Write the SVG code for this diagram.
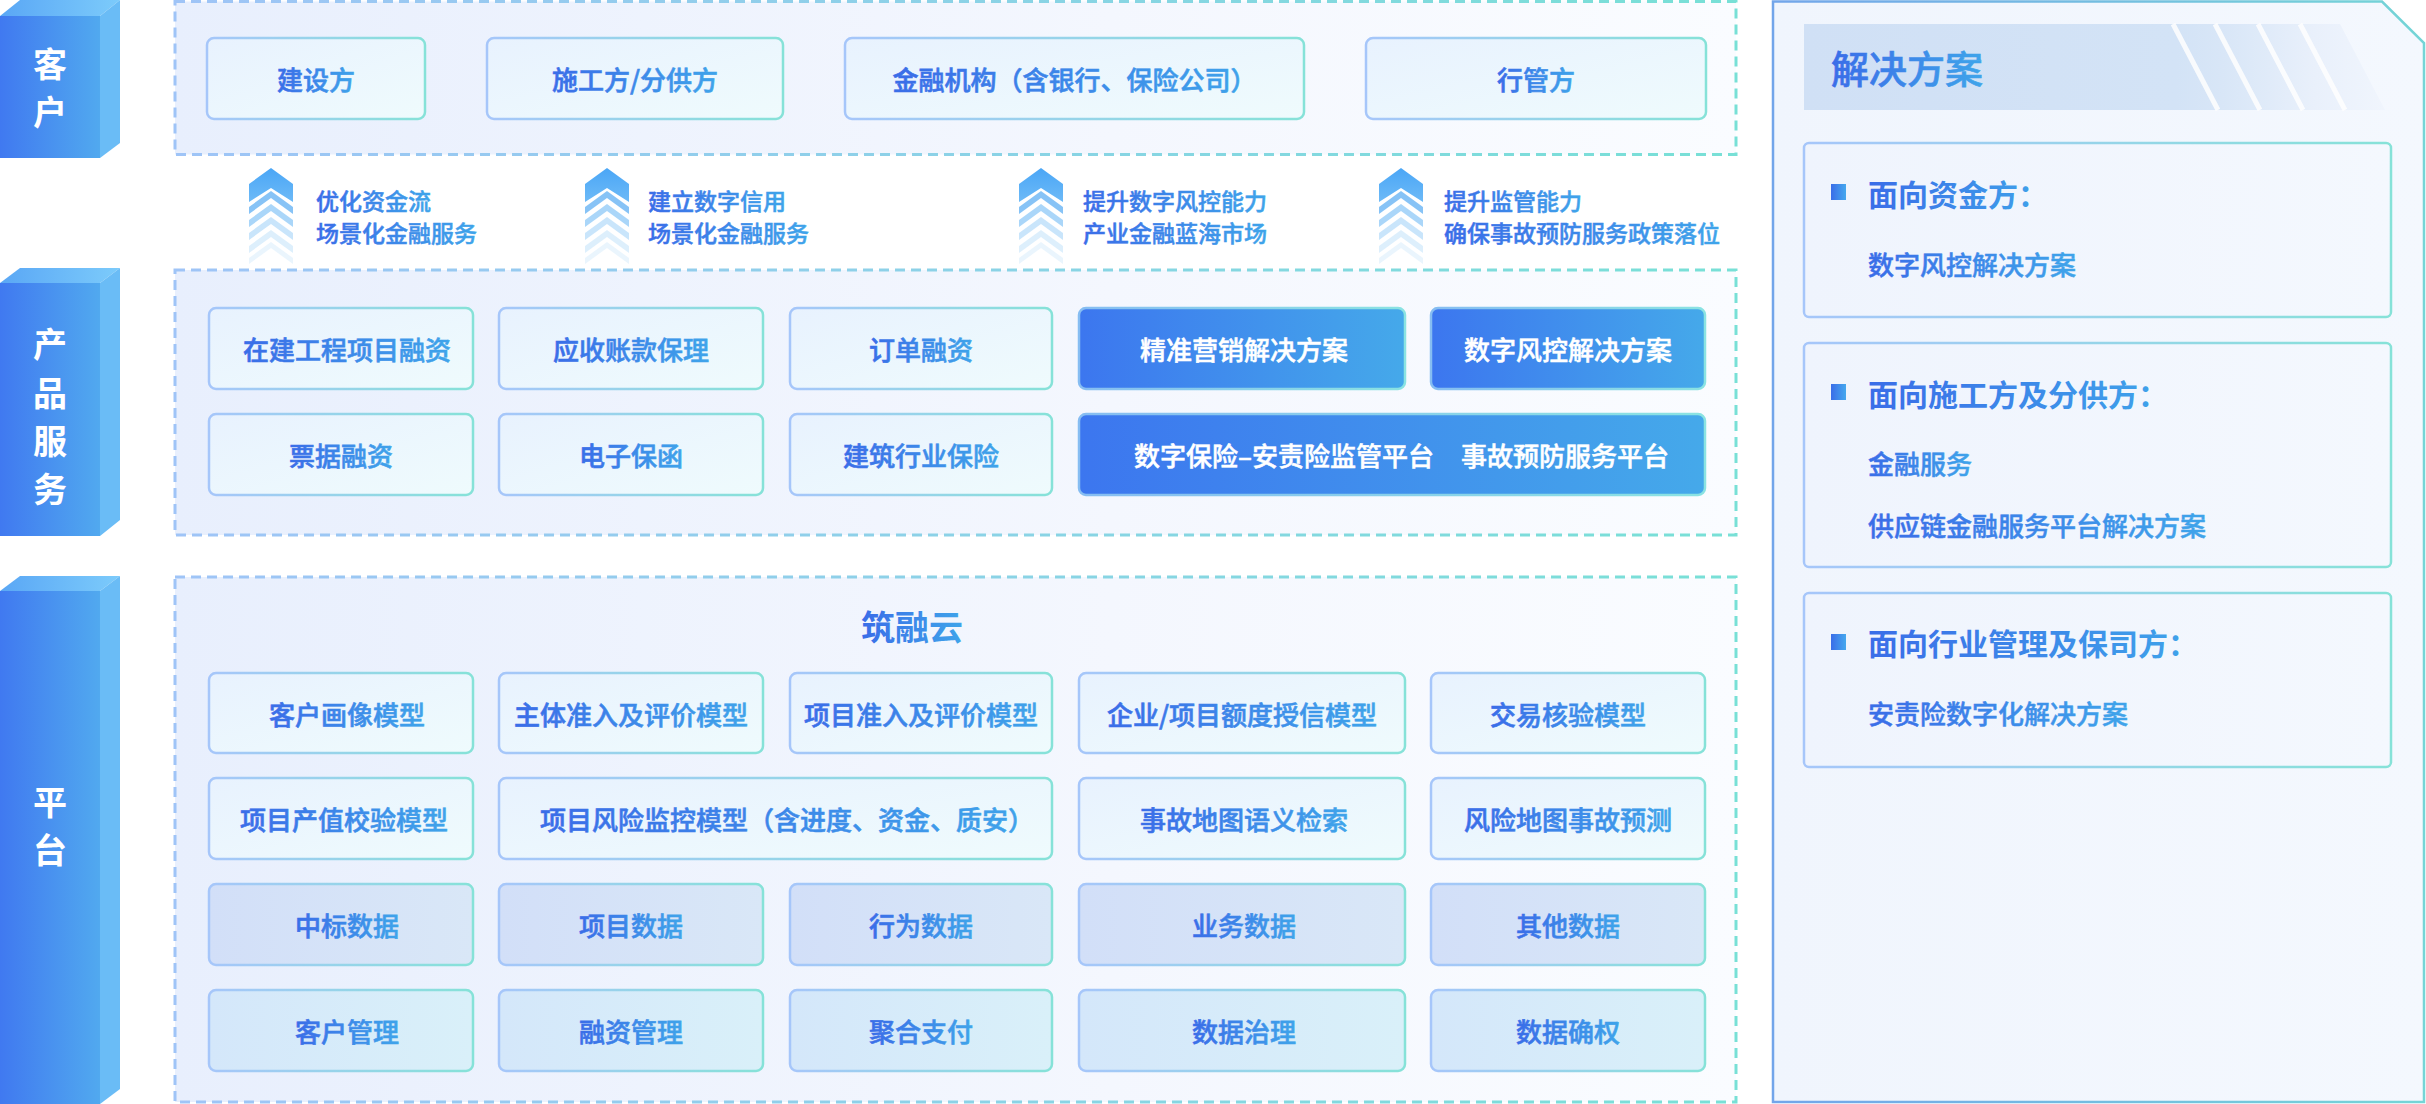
<svg xmlns="http://www.w3.org/2000/svg" width="2426" height="1104" viewBox="0 0 2426 1104">
<defs>
  <linearGradient id="gText" x1="0" y1="0" x2="1" y2="0"><stop offset="0" stop-color="#3a6de8"/><stop offset="1" stop-color="#3fa4ea"/></linearGradient>
  <linearGradient id="gBoxStroke" x1="0" y1="0" x2="1" y2="0"><stop offset="0" stop-color="#a6c6fa"/><stop offset="1" stop-color="#86e2d8"/></linearGradient>
  <linearGradient id="gBoxFill" x1="0" y1="0" x2="1" y2="1"><stop offset="0" stop-color="#e8f2fe"/><stop offset="1" stop-color="#effbfd"/></linearGradient>
  <linearGradient id="gDataFill" x1="0" y1="0" x2="1" y2="0"><stop offset="0" stop-color="#d2dff8"/><stop offset="1" stop-color="#d9e7f7"/></linearGradient>
  <linearGradient id="gMgmtFill" x1="0" y1="0" x2="1" y2="0"><stop offset="0" stop-color="#d4e7fa"/><stop offset="1" stop-color="#d9f0f9"/></linearGradient>
  <linearGradient id="gBlue" x1="0" y1="0" x2="1" y2="0"><stop offset="0" stop-color="#3c76ef"/><stop offset="1" stop-color="#45a9ea"/></linearGradient>
  <linearGradient id="gBlueStroke" x1="0" y1="0" x2="1" y2="0"><stop offset="0" stop-color="#86bdf2"/><stop offset="1" stop-color="#8ae3e2"/></linearGradient>
  <linearGradient id="gCont" x1="0" y1="0" x2="1" y2="0"><stop offset="0" stop-color="#e8effd"/><stop offset="0.6" stop-color="#f4f7fe"/><stop offset="1" stop-color="#fafcff"/></linearGradient>
  <linearGradient id="gContStroke" x1="0" y1="0" x2="1" y2="0"><stop offset="0" stop-color="#9fc4f7"/><stop offset="1" stop-color="#78e0d6"/></linearGradient>
  <linearGradient id="gFront" x1="0" y1="0" x2="1" y2="0"><stop offset="0" stop-color="#4079f0"/><stop offset="1" stop-color="#51a9ef"/></linearGradient>
  <linearGradient id="gTop" x1="0" y1="0" x2="1" y2="0"><stop offset="0" stop-color="#5aa7f5"/><stop offset="1" stop-color="#7ccbfb"/></linearGradient>
  <linearGradient id="gPanelStroke" x1="0" y1="0" x2="1" y2="0"><stop offset="0" stop-color="#72a5ea"/><stop offset="1" stop-color="#74d5d6"/></linearGradient>
  <linearGradient id="gPanelFill" x1="0" y1="0" x2="1" y2="0"><stop offset="0" stop-color="#f0f5fd"/><stop offset="1" stop-color="#f4f8fe"/></linearGradient>
  <linearGradient id="gCardFill" x1="0" y1="0" x2="1" y2="0"><stop offset="0" stop-color="#eff4fd"/><stop offset="1" stop-color="#f4f8fe"/></linearGradient>
  <linearGradient id="gBand" x1="0" y1="0" x2="1" y2="0">
    <stop offset="0" stop-color="#d0e0f5"/><stop offset="0.64" stop-color="#d3e3f6"/><stop offset="0.72" stop-color="#d8e6f7"/><stop offset="0.8" stop-color="#e0ebf9"/><stop offset="0.88" stop-color="#e9f0fb"/><stop offset="1" stop-color="#f0f5fd"/>
  </linearGradient>
  <linearGradient id="gBullet" x1="0" y1="0" x2="1" y2="0"><stop offset="0" stop-color="#3a6de8"/><stop offset="1" stop-color="#45a8ee"/></linearGradient>
  <linearGradient id="gChev" x1="0" y1="0" x2="0" y2="1"><stop offset="0" stop-color="#4aa6f6"/><stop offset="1" stop-color="#6dbaf7"/></linearGradient>
  <symbol id="chev" overflow="visible">
    <polygon points="0,0 22,16 22,34 0,20 -22,34 -22,16" fill="url(#gChev)"/>
    <polygon points="0,23 22,39 22,46 0,30 -22,46 -22,39" fill="#72b9f5" opacity="0.85"/>
    <polygon points="0,36 22,52 22,59 0,43 -22,59 -22,52" fill="#86c4f6" opacity="0.7"/>
    <polygon points="0,49 22,65 22,72 0,56 -22,72 -22,65" fill="#9ccff8" opacity="0.55"/>
    <polygon points="0,62 22,78 22,85 0,69 -22,85 -22,78" fill="#b4dbf9" opacity="0.45"/>
    <polygon points="0,74 22,90 22,96 0,80 -22,96 -22,90" fill="#cbe6fb" opacity="0.4"/>
  </symbol>
</defs>
<style>
  text { font-family: "Noto Sans CJK SC", "Noto Sans", sans-serif; }
  .box { fill: url(#gBoxFill); stroke: url(#gBoxStroke); stroke-width: 2.5; }
  .data { fill: url(#gDataFill); stroke: url(#gBoxStroke); stroke-width: 2.5; }
  .mgmt { fill: url(#gMgmtFill); stroke: url(#gBoxStroke); stroke-width: 2.5; }
  .blue { fill: url(#gBlue); stroke: url(#gBlueStroke); stroke-width: 2.5; }
  .t { fill: url(#gText); stroke: url(#gText); stroke-width: 0.6; font-size: 26px; font-weight: 500; text-anchor: middle; dominant-baseline: central; }
  .tw { fill: #ffffff; stroke: #ffffff; stroke-width: 0.5; font-size: 26px; font-weight: 500; text-anchor: middle; dominant-baseline: central; }
  .cont { fill: url(#gCont); stroke: url(#gContStroke); stroke-width: 3; stroke-dasharray: 10 6; }
  .lbl { fill: #ffffff; font-size: 34px; font-weight: 700; text-anchor: middle; dominant-baseline: central; }
  .arr { fill: url(#gText); stroke: url(#gText); stroke-width: 0.5; font-size: 23px; font-weight: 500; dominant-baseline: central; }
  .card { fill: url(#gCardFill); stroke: url(#gBoxStroke); stroke-width: 2.5; }
  .ch { fill: url(#gText); font-size: 30px; font-weight: 700; dominant-baseline: central; }
  .cs { fill: url(#gText); stroke: url(#gText); stroke-width: 0.5; font-size: 26px; font-weight: 500; dominant-baseline: central; }
</style>
<rect x="0" y="0" width="2426" height="1104" fill="#ffffff"/>

<!-- left layer labels -->
<g id="label-customer">
  <rect x="0" y="16" width="100" height="142" fill="url(#gFront)"/>
  <polygon points="0,16 20,0 120,0 100,16" fill="url(#gTop)"/>
  <polygon points="100,16 120,0 120,143 100,158" fill="#6abcf6"/>
  <text class="lbl" x="50" y="62">客</text>
  <text class="lbl" x="50" y="110">户</text>
</g>
<g id="label-product">
  <rect x="0" y="283" width="100" height="253" fill="url(#gFront)"/>
  <polygon points="0,283 20,268 120,268 100,283" fill="url(#gTop)"/>
  <polygon points="100,283 120,268 120,520 100,536" fill="#6abcf6"/>
  <text class="lbl" x="50" y="342">产</text>
  <text class="lbl" x="50" y="391">品</text>
  <text class="lbl" x="50" y="439">服</text>
  <text class="lbl" x="50" y="487">务</text>
</g>
<g id="label-platform">
  <rect x="0" y="591" width="100" height="513" fill="url(#gFront)"/>
  <polygon points="0,591 20,576 120,576 100,591" fill="url(#gTop)"/>
  <polygon points="100,591 120,576 120,1089 100,1104" fill="#6abcf6"/>
  <text class="lbl" x="50" y="800">平</text>
  <text class="lbl" x="50" y="848">台</text>
</g>

<!-- containers -->
<g id="customer-layer">
  <rect class="cont" x="175" y="1.5" width="1561" height="153"/>
</g>
<g id="product-layer">
  <rect class="cont" x="175" y="270" width="1561" height="265"/>
</g>
<g id="platform-layer">
  <rect class="cont" x="175" y="577" width="1561" height="525"/>
  <text x="912" y="625" style="fill:url(#gText);font-size:34px;font-weight:700;text-anchor:middle;dominant-baseline:central">筑融云</text>
</g>

<!-- customer nodes -->
<g id="n-jianshefang"><rect class="box" x="207" y="38" width="218" height="81" rx="7"/><text class="t" x="316" y="78.5">建设方</text></g>
<g id="n-shigongfang"><rect class="box" x="487" y="38" width="296" height="81" rx="7"/><text class="t" x="635" y="78.5">施工方/分供方</text></g>
<g id="n-jinrong"><rect class="box" x="845" y="38" width="459" height="81" rx="7"/><text class="t" x="1074.5" y="78.5">金融机构（含银行、保险公司）</text></g>
<g id="n-xingguan"><rect class="box" x="1366" y="38" width="340" height="81" rx="7"/><text class="t" x="1536" y="78.5">行管方</text></g>

<!-- connectors (upward value arrows) -->
<g id="connectors">
  <use href="#chev" x="271" y="168"/>
  <use href="#chev" x="607" y="168"/>
  <use href="#chev" x="1041" y="168"/>
  <use href="#chev" x="1401" y="168"/>
  <text class="arr" x="316" y="200">优化资金流</text>
  <text class="arr" x="316" y="232">场景化金融服务</text>
  <text class="arr" x="648" y="200">建立数字信用</text>
  <text class="arr" x="648" y="232">场景化金融服务</text>
  <text class="arr" x="1083" y="200">提升数字风控能力</text>
  <text class="arr" x="1083" y="232">产业金融蓝海市场</text>
  <text class="arr" x="1444" y="200">提升监管能力</text>
  <text class="arr" x="1444" y="232">确保事故预防服务政策落位</text>
</g>

<!-- product nodes -->
<g id="p-zaijian"><rect class="box" x="209" y="308" width="264" height="81" rx="7"/><text class="t" x="347" y="348.5">在建工程项目融资</text></g>
<g id="p-yingshou"><rect class="box" x="499" y="308" width="264" height="81" rx="7"/><text class="t" x="631" y="348.5">应收账款保理</text></g>
<g id="p-dingdan"><rect class="box" x="790" y="308" width="262" height="81" rx="7"/><text class="t" x="921" y="348.5">订单融资</text></g>
<g id="p-jingzhun"><rect class="blue" x="1079" y="308" width="326" height="81" rx="7"/><text class="tw" x="1244" y="348.5">精准营销解决方案</text></g>
<g id="p-fengkong"><rect class="blue" x="1431" y="308" width="274" height="81" rx="7"/><text class="tw" x="1568" y="348.5">数字风控解决方案</text></g>
<g id="p-piaoju"><rect class="box" x="209" y="414" width="264" height="81" rx="7"/><text class="t" x="341" y="454.5">票据融资</text></g>
<g id="p-baohan"><rect class="box" x="499" y="414" width="264" height="81" rx="7"/><text class="t" x="631" y="454.5">电子保函</text></g>
<g id="p-baoxian"><rect class="box" x="790" y="414" width="262" height="81" rx="7"/><text class="t" x="921" y="454.5">建筑行业保险</text></g>
<g id="p-platform"><rect class="blue" x="1079" y="414" width="626" height="81" rx="7"/><text class="tw" x="1284" y="454.5">数字保险–安责险监管平台</text><text class="tw" x="1565" y="454.5">事故预防服务平台</text></g>

<!-- platform nodes -->
<g id="m-kehuhuaxiang"><rect class="box" x="209" y="673" width="264" height="80" rx="7"/><text class="t" x="347" y="713">客户画像模型</text></g>
<g id="m-zhuti"><rect class="box" x="499" y="673" width="264" height="80" rx="7"/><text class="t" x="631" y="713">主体准入及评价模型</text></g>
<g id="m-xiangmuzhunru"><rect class="box" x="790" y="673" width="262" height="80" rx="7"/><text class="t" x="921" y="713">项目准入及评价模型</text></g>
<g id="m-edu"><rect class="box" x="1079" y="673" width="326" height="80" rx="7"/><text class="t" x="1242" y="713">企业/项目额度授信模型</text></g>
<g id="m-jiaoyi"><rect class="box" x="1431" y="673" width="274" height="80" rx="7"/><text class="t" x="1568" y="713">交易核验模型</text></g>

<g id="m-chanzhi"><rect class="box" x="209" y="778" width="264" height="81" rx="7"/><text class="t" x="344" y="818.5">项目产值校验模型</text></g>
<g id="m-fengxianjiankong"><rect class="box" x="499" y="778" width="553" height="81" rx="7"/><text class="t" x="787" y="818.5">项目风险监控模型（含进度、资金、质安）</text></g>
<g id="m-jiansuo"><rect class="box" x="1079" y="778" width="326" height="81" rx="7"/><text class="t" x="1244" y="818.5">事故地图语义检索</text></g>
<g id="m-yuce"><rect class="box" x="1431" y="778" width="274" height="81" rx="7"/><text class="t" x="1568" y="818.5">风险地图事故预测</text></g>

<g id="d-zhongbiao"><rect class="data" x="209" y="884" width="264" height="81" rx="7"/><text class="t" x="347" y="924.5">中标数据</text></g>
<g id="d-xiangmu"><rect class="data" x="499" y="884" width="264" height="81" rx="7"/><text class="t" x="631" y="924.5">项目数据</text></g>
<g id="d-xingwei"><rect class="data" x="790" y="884" width="262" height="81" rx="7"/><text class="t" x="921" y="924.5">行为数据</text></g>
<g id="d-yewu"><rect class="data" x="1079" y="884" width="326" height="81" rx="7"/><text class="t" x="1244" y="924.5">业务数据</text></g>
<g id="d-qita"><rect class="data" x="1431" y="884" width="274" height="81" rx="7"/><text class="t" x="1568" y="924.5">其他数据</text></g>

<g id="g-kehu"><rect class="mgmt" x="209" y="990" width="264" height="81" rx="7"/><text class="t" x="347" y="1030.5">客户管理</text></g>
<g id="g-rongzi"><rect class="mgmt" x="499" y="990" width="264" height="81" rx="7"/><text class="t" x="631" y="1030.5">融资管理</text></g>
<g id="g-zhifu"><rect class="mgmt" x="790" y="990" width="262" height="81" rx="7"/><text class="t" x="921" y="1030.5">聚合支付</text></g>
<g id="g-zhili"><rect class="mgmt" x="1079" y="990" width="326" height="81" rx="7"/><text class="t" x="1244" y="1030.5">数据治理</text></g>
<g id="g-queren"><rect class="mgmt" x="1431" y="990" width="274" height="81" rx="7"/><text class="t" x="1568" y="1030.5">数据确权</text></g>

<!-- solutions panel -->
<g id="solutions">
  <polygon points="1773,1.5 2382,1.5 2424,43 2424,1102 1773,1102" fill="url(#gPanelFill)" stroke="url(#gPanelStroke)" stroke-width="2.5"/>
  <polygon points="1804,24 2340,24 2385,110 1804,110" fill="url(#gBand)"/>
  <g stroke="#ffffff" stroke-width="5" opacity="0.85">
    <line x1="2173" y1="24" x2="2218" y2="110"/>
    <line x1="2215" y1="24" x2="2260" y2="110"/>
    <line x1="2258" y1="24" x2="2303" y2="110"/>
    <line x1="2300" y1="24" x2="2345" y2="110"/>
  </g>
  <text x="1831" y="66" style="fill:url(#gText);stroke:url(#gText);stroke-width:0.6;font-size:38px;font-weight:500;dominant-baseline:central">解决方案</text>
</g>
<g id="card-funder">
  <rect class="card" x="1804" y="143" width="587" height="174" rx="5"/>
  <rect x="1831" y="184" width="15" height="16" fill="url(#gBullet)"/>
  <text class="ch" x="1868" y="193">面向资金方：</text>
  <text class="cs" x="1868" y="263">数字风控解决方案</text>
</g>
<g id="card-contractor">
  <rect class="card" x="1804" y="343" width="587" height="224" rx="5"/>
  <rect x="1831" y="384" width="15" height="16" fill="url(#gBullet)"/>
  <text class="ch" x="1868" y="393">面向施工方及分供方：</text>
  <text class="cs" x="1868" y="462">金融服务</text>
  <text class="cs" x="1868" y="524">供应链金融服务平台解决方案</text>
</g>
<g id="card-regulator">
  <rect class="card" x="1804" y="593" width="587" height="174" rx="5"/>
  <rect x="1831" y="634" width="15" height="16" fill="url(#gBullet)"/>
  <text class="ch" x="1868" y="642">面向行业管理及保司方：</text>
  <text class="cs" x="1868" y="712">安责险数字化解决方案</text>
</g>
</svg>
